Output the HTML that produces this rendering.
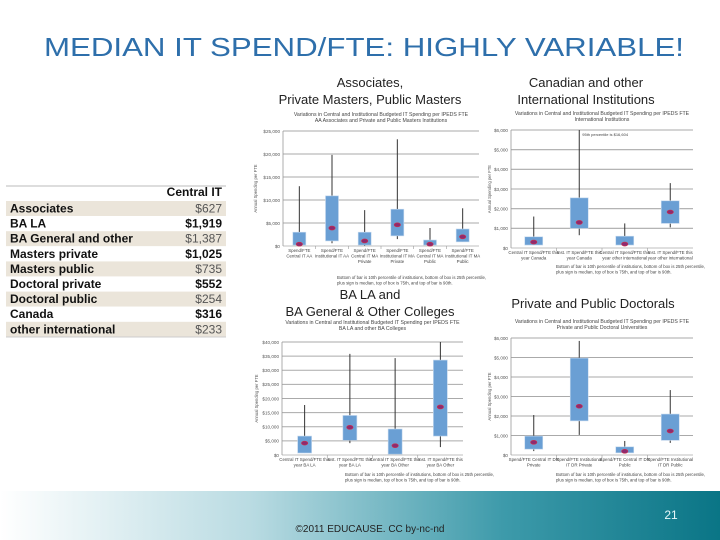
<!DOCTYPE html>
<html><head><meta charset="utf-8">
<style>
html,body{margin:0;padding:0;background:#fff;}
svg{display:block;font-family:"Liberation Sans",sans-serif;}
</style></head>
<body>
<svg id="s" width="720" height="540" viewBox="0 0 720 540">
<defs>
<linearGradient id="fg" x1="0" x2="1" y1="0" y2="0">
<stop offset="0" stop-color="#ffffff"/>
<stop offset="0.35" stop-color="#b9dbe2"/>
<stop offset="0.7" stop-color="#3d9aaa"/>
<stop offset="1" stop-color="#0a7586"/>
</linearGradient>
</defs>
<rect x="0" y="491" width="720" height="49" fill="url(#fg)"/>
<text x="370" y="532" font-size="10" fill="#222" text-anchor="middle">©2011 EDUCAUSE. CC by-nc-nd</text>
<text x="671" y="519" font-size="12" fill="#e8f8fa" text-anchor="middle">21</text>

<text x="364" y="56" font-size="26" fill="#2e6fab" text-anchor="middle" textLength="640" lengthAdjust="spacingAndGlyphs">MEDIAN IT SPEND/FTE:  HIGHLY VARIABLE!</text>

<g font-size="13" fill="#222" text-anchor="middle">
<text x="370" y="87">Associates,</text><text x="370" y="104">Private Masters, Public Masters</text></g>
<g font-size="13" fill="#222" text-anchor="middle">
<text x="586" y="87">Canadian and other</text><text x="586" y="104">International Institutions</text></g>
<g font-size="13" fill="#222" text-anchor="middle">
<text x="370" y="299">BA LA and</text><text x="370" y="316">BA General &amp; Other Colleges</text></g>
<text x="593" y="308" font-size="13" fill="#222" text-anchor="middle">Private and Public Doctorals</text>

<g id="table"></g>
<g id="charts"></g>
</svg>
<script>
// ---- table data ----
const tableRows = ["Associates","BA LA","BA General and other","Masters private","Masters public","Doctoral private","Doctoral public","Canada","other international"];
const tableVals = ["$627","$1,919","$1,387","$1,025","$735","$552","$254","$316","$233"];

// ---- chart 1: Associates / Masters ----
const c1Cats = [["Spend/FTE","Central IT AA"],["Spend/FTE","Institutional IT AA"],["Spend/FTE","Central IT MA","Private"],["Spend/FTE","Institutional IT MA","Private"],["Spend/FTE","Central IT MA","Public"],["Spend/FTE","Institutional IT MA","Public"]];
const c1Ticks = [0,5000,10000,15000,20000,25000];
const c1WhiskLo = [0,600,0,1500,0,900];
const c1Q1 = [200,1100,200,2200,200,900];
const c1Med = [400,3900,1100,4600,400,2000];
const c1Q3 = [3000,10900,3000,8000,1300,3700];
const c1WhiskHi = [13000,19800,7800,23200,3900,8200];

// ---- chart 2: Canada / international ----
const c2Cats = [["Central IT Spend/FTE this","year Canada"],["Inst. IT Spend/FTE this","year Canada"],["Central IT Spend/FTE this","year other international"],["Inst. IT Spend/FTE this","year other international"]];
const c2Ticks = [0,1000,2000,3000,4000,5000,6000];
const c2WhiskLo = [150,650,150,1050];
const c2Q1 = [150,1000,150,1250];
const c2Med = [300,1300,200,1830];
const c2Q3 = [570,2550,600,2400];
const c2WhiskHi = [1600,16604,1250,3300];

// ---- chart 3: BA ----
const c3Cats = [["Central IT Spend/FTE this","year BA LA"],["Inst. IT Spend/FTE this","year BA LA"],["Central IT Spend/FTE this","year BA Other"],["Inst. IT Spend/FTE this","year BA Other"]];
const c3Ticks = [0,5000,10000,15000,20000,25000,30000,35000,40000];
const c3WhiskLo = [700,4200,300,2800];
const c3Q1 = [700,5200,300,6700];
const c3Med = [4200,9800,3300,17000];
const c3Q3 = [6700,14000,9200,33600];
const c3WhiskHi = [17700,35800,34300,41000];

// ---- chart 4: Doctorals ----
const c4Cats = [["Spend/FTE Central IT DR","Private"],["Spend/FTE Institutional","IT DR Private"],["Spend/FTE Central IT DR","Public"],["Spend/FTE Institutional","IT DR Public"]];
const c4Ticks = [0,1000,2000,3000,4000,5000,6000];
const c4WhiskLo = [200,1030,110,620];
const c4Q1 = [300,1750,110,750];
const c4Med = [650,2500,190,1230];
const c4Q3 = [970,4970,420,2100];
const c4WhiskHi = [2050,5850,720,3330];

const NS="http://www.w3.org/2000/svg";
function mk(tag,attrs,parent,txt){const e=document.createElementNS(NS,tag);for(const k in attrs)e.setAttribute(k,attrs[k]);if(txt!==undefined)e.textContent=txt;parent.appendChild(e);return e;}

// table
const tg=document.getElementById('table');
mk('line',{x1:6,x2:226,y1:186,y2:186,stroke:'#bbb','stroke-width':1},tg);
const hdr=mk('text',{x:222,y:196,'font-size':12,'font-weight':'bold','text-anchor':'end',fill:'#111'},tg,'Central IT');


tableRows.forEach((r,i)=>{
  const y=201+i*15.1;
  const shade=i%2===0;
  const bg=mk('rect',{x:6,y:y,width:220,height:15,fill:shade?'#ebe5da':'#fff'},tg);
  
  
  const l=mk('text',{x:10,y:y+11.5,'font-size':12,'font-weight':'bold',fill:'#111'},tg,r);
  
  
  const v=mk('text',{x:222,y:y+11.5,'font-size':12,'font-weight':shade?'normal':'bold','text-anchor':'end',fill:shade?'#555':'#111'},tg,tableVals[i]);
  
  
});
mk('line',{x1:6,x2:226,y1:337,y2:337,stroke:'#ccc','stroke-width':1},tg);

function fmt(v){return '$'+v.toLocaleString('en-US');}

function chart(cfg){
  const g=mk('g',{},document.getElementById('charts'));
  
  
  const max=cfg.ticks[cfg.ticks.length-1];
  const Y=v=>cfg.y0-(Math.min(v,max)/max)*(cfg.y0-cfg.y1);
  const n=cfg.cats.length, bw=(cfg.x1-cfg.x0)/n;
  const X=i=>cfg.x0+bw*(i+0.5);
  cfg.title.forEach((t,i)=>{const e=mk('text',{x:(cfg.x0+cfg.x1)/2,y:cfg.ty+i*6,'font-size':5.2,fill:'#444','text-anchor':'middle'},g,t);
    
    });
  cfg.ticks.forEach(t=>{
    const gl=mk('line',{x1:cfg.x0,x2:cfg.x1,y1:Y(t),y2:Y(t),stroke:'#aaa','stroke-width':t===0?0.8:1.1},g);
    
    
    const tl=mk('text',{x:cfg.x0-3,y:Y(t)+1.8,'font-size':4.6,fill:'#555','text-anchor':'end'},g,fmt(t));
    
    
  });
  mk('line',{x1:cfg.x0,x2:cfg.x0,y1:cfg.y1,y2:cfg.y0,stroke:'#999','stroke-width':0.8},g);
  const yt=mk('text',{x:0,y:0,'font-size':4.2,fill:'#555','text-anchor':'middle',transform:`translate(${cfg.x0-cfg.labW},${(cfg.y0+cfg.y1)/2}) rotate(-90)`},g,cfg.ylab);
  
  
  for(let i=0;i<n;i++){
    const cx=X(i), w=cfg.bw;
    const wh=mk('line',{x1:cx,x2:cx,y1:Y(cfg.hi[i]),y2:Y(cfg.lo[i]),stroke:'#333','stroke-width':1},g);
    
    
    const b=mk('rect',{x:cx-w/2,y:Y(cfg.q3[i]),width:w,height:Math.max(1,Y(cfg.q1[i])-Y(cfg.q3[i])),fill:'#6a9fd4',stroke:'#c5d9ee','stroke-width':0.6},g);
    
    
    const m=mk('ellipse',{cx:cx,cy:Y(cfg.med[i]),rx:3.2,ry:2,fill:'#8e2a6f',stroke:'#d0304a','stroke-width':0.6},g);
    
    
    cfg.cats[i].forEach((t,j)=>{const c=mk('text',{x:cx,y:cfg.y0+6+j*5.5,'font-size':4.4,fill:'#444','text-anchor':'middle'},g,t);
      
      });
    if(i>0){mk('line',{x1:cfg.x0+bw*i,x2:cfg.x0+bw*i,y1:cfg.y0,y2:cfg.y0+3,stroke:'#999','stroke-width':0.6},g);}
  }
  if(cfg.extra){const e=mk('text',{x:X(1)+3,y:cfg.y1+6,'font-size':4,fill:'#444'},g,cfg.extra);
    
    }
  cfg.note.forEach((t,i)=>{const e=mk('text',{x:cfg.nx,y:cfg.ny+i*5.5,'font-size':4.3,fill:'#444'},g,t);
    
    });
}
const note=["Bottom of bar is 10th percentile of institutions, bottom of box is 25th percentile,","plus sign is median, top of box is 75th, and top of bar is 90th."];
chart({name:'chart-associates-masters',cats:c1Cats,ticks:c1Ticks,lo:c1WhiskLo,q1:c1Q1,med:c1Med,q3:c1Q3,hi:c1WhiskHi,
  x0:283,x1:479,y0:246,y1:131,bw:13,ty:116,labW:26,ylab:'Annual Spending per FTE',
  title:["Variations in Central and Institutional Budgeted IT Spending per IPEDS FTE","AA Associates and Private and Public Masters Institutions"],note:note,nx:337,ny:279});
chart({name:'chart-international',cats:c2Cats,ticks:c2Ticks,lo:c2WhiskLo,q1:c2Q1,med:c2Med,q3:c2Q3,hi:c2WhiskHi,
  x0:511,x1:693,y0:248,y1:130,bw:18,ty:115,labW:20,ylab:'Annual Spending per FTE',extra:'95th percentile is $16,604',
  title:["Variations in Central and Institutional Budgeted IT Spending per IPEDS FTE","International Institutions"],note:note,nx:556,ny:268});
chart({name:'chart-ba-colleges',cats:c3Cats,ticks:c3Ticks,lo:c3WhiskLo,q1:c3Q1,med:c3Med,q3:c3Q3,hi:c3WhiskHi,
  x0:282,x1:463,y0:455,y1:342,bw:14,ty:324,labW:24,ylab:'Annual Spending per FTE',
  title:["Variations in Central and Institutional Budgeted IT Spending per IPEDS FTE","BA LA and other BA Colleges"],note:note,nx:345,ny:476});
chart({name:'chart-doctorals',cats:c4Cats,ticks:c4Ticks,lo:c4WhiskLo,q1:c4Q1,med:c4Med,q3:c4Q3,hi:c4WhiskHi,
  x0:511,x1:693,y0:455,y1:338,bw:18,ty:323,labW:20,ylab:'Annual Spending per FTE',
  title:["Variations in Central and Institutional Budgeted IT Spending per IPEDS FTE","Private and Public Doctoral Universities"],note:note,nx:556,ny:476});
</script>
</body></html>
